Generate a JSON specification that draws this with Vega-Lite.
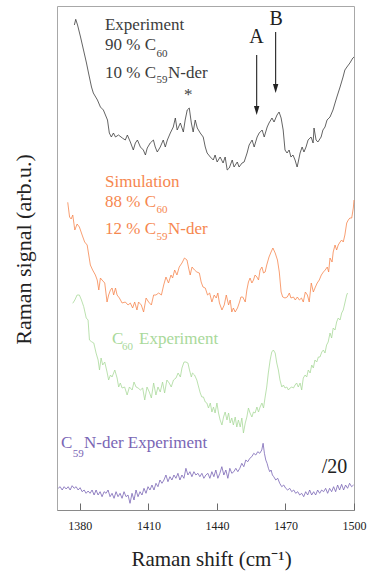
{
  "$schema": "https://vega.github.io/schema/vega-lite/v6.json",
  "width": 297,
  "height": 504,
  "autosize": {"type": "none"},
  "padding": {"left": 57, "top": 6, "right": 20, "bottom": 67},
  "background": "white",
  "config": {
    "view": {"stroke": "#a8a8a8", "strokeWidth": 1},
    "font": "Liberation Serif",
    "text": {"font": "Liberation Serif"}
  },
  "datasets": {
    "spectra": [
      {"series":"mix","shift":1377.6,"signal":485},{"series":"mix","shift":1378.2,"signal":490.7},{"series":"mix","shift":1379.0,"signal":485},{"series":"mix","shift":1380.3,"signal":473},{"series":"mix","shift":1381.6,"signal":460},{"series":"mix","shift":1382.9,"signal":447},{"series":"mix","shift":1383.8,"signal":437},{"series":"mix","shift":1385.1,"signal":423},{"series":"mix","shift":1385.9,"signal":417},{"series":"mix","shift":1387.7,"signal":410},{"series":"mix","shift":1389.0,"signal":403},{"series":"mix","shift":1390.3,"signal":400},{"series":"mix","shift":1392.1,"signal":390},{"series":"mix","shift":1392.9,"signal":377},{"series":"mix","shift":1393.8,"signal":373},{"series":"mix","shift":1394.7,"signal":377},{"series":"mix","shift":1395.6,"signal":373},{"series":"mix","shift":1396.9,"signal":375},{"series":"mix","shift":1398.6,"signal":372},{"series":"mix","shift":1399.9,"signal":370},{"series":"mix","shift":1400.8,"signal":375},{"series":"mix","shift":1402.1,"signal":368},{"series":"mix","shift":1403.4,"signal":360},{"series":"mix","shift":1404.3,"signal":367},{"series":"mix","shift":1405.2,"signal":370},{"series":"mix","shift":1406.5,"signal":363},{"series":"mix","shift":1407.8,"signal":360},{"series":"mix","shift":1408.7,"signal":355},{"series":"mix","shift":1409.5,"signal":362},{"series":"mix","shift":1410.8,"signal":367},{"series":"mix","shift":1412.2,"signal":370},{"series":"mix","shift":1413.0,"signal":363},{"series":"mix","shift":1413.9,"signal":358},{"series":"mix","shift":1415.2,"signal":363},{"series":"mix","shift":1416.5,"signal":370},{"series":"mix","shift":1417.4,"signal":363},{"series":"mix","shift":1418.3,"signal":370},{"series":"mix","shift":1419.6,"signal":377},{"series":"mix","shift":1420.9,"signal":383},{"series":"mix","shift":1421.8,"signal":392},{"series":"mix","shift":1422.6,"signal":380},{"series":"mix","shift":1424.0,"signal":387},{"series":"mix","shift":1425.3,"signal":378},{"series":"mix","shift":1426.1,"signal":390},{"series":"mix","shift":1427.0,"signal":400},{"series":"mix","shift":1427.9,"signal":402},{"series":"mix","shift":1428.8,"signal":387},{"series":"mix","shift":1429.6,"signal":378},{"series":"mix","shift":1430.5,"signal":390},{"series":"mix","shift":1431.4,"signal":382},{"series":"mix","shift":1432.7,"signal":377},{"series":"mix","shift":1434.0,"signal":373},{"series":"mix","shift":1434.9,"signal":363},{"series":"mix","shift":1435.7,"signal":357},{"series":"mix","shift":1437.1,"signal":353},{"series":"mix","shift":1438.4,"signal":350},{"series":"mix","shift":1439.2,"signal":355},{"series":"mix","shift":1440.1,"signal":348},{"series":"mix","shift":1441.4,"signal":353},{"series":"mix","shift":1442.7,"signal":347},{"series":"mix","shift":1443.6,"signal":353},{"series":"mix","shift":1444.5,"signal":340},{"series":"mix","shift":1445.4,"signal":342},{"series":"mix","shift":1446.7,"signal":350},{"series":"mix","shift":1447.5,"signal":343},{"series":"mix","shift":1448.9,"signal":348},{"series":"mix","shift":1449.7,"signal":343},{"series":"mix","shift":1451.0,"signal":347},{"series":"mix","shift":1451.9,"signal":348},{"series":"mix","shift":1453.2,"signal":357},{"series":"mix","shift":1454.1,"signal":365},{"series":"mix","shift":1455.4,"signal":370},{"series":"mix","shift":1456.3,"signal":363},{"series":"mix","shift":1457.6,"signal":373},{"series":"mix","shift":1458.5,"signal":377},{"series":"mix","shift":1459.8,"signal":380},{"series":"mix","shift":1460.7,"signal":373},{"series":"mix","shift":1462.0,"signal":383},{"series":"mix","shift":1462.8,"signal":387},{"series":"mix","shift":1464.1,"signal":392},{"series":"mix","shift":1465.0,"signal":388},{"series":"mix","shift":1466.3,"signal":395},{"series":"mix","shift":1467.2,"signal":398},{"series":"mix","shift":1468.1,"signal":392},{"series":"mix","shift":1469.0,"signal":380},{"series":"mix","shift":1469.8,"signal":360},{"series":"mix","shift":1470.7,"signal":357},{"series":"mix","shift":1471.6,"signal":360},{"series":"mix","shift":1472.4,"signal":353},{"series":"mix","shift":1473.3,"signal":355},{"series":"mix","shift":1474.2,"signal":350},{"series":"mix","shift":1475.1,"signal":343},{"series":"mix","shift":1475.5,"signal":347},{"series":"mix","shift":1476.4,"signal":357},{"series":"mix","shift":1477.3,"signal":363},{"series":"mix","shift":1478.1,"signal":358},{"series":"mix","shift":1479.0,"signal":363},{"series":"mix","shift":1479.9,"signal":370},{"series":"mix","shift":1481.2,"signal":373},{"series":"mix","shift":1482.1,"signal":367},{"series":"mix","shift":1482.5,"signal":382},{"series":"mix","shift":1483.4,"signal":370},{"series":"mix","shift":1484.2,"signal":368},{"series":"mix","shift":1485.6,"signal":373},{"series":"mix","shift":1486.4,"signal":380},{"series":"mix","shift":1487.3,"signal":383},{"series":"mix","shift":1488.2,"signal":390},{"series":"mix","shift":1489.5,"signal":393},{"series":"mix","shift":1490.8,"signal":400},{"series":"mix","shift":1491.7,"signal":407},{"series":"mix","shift":1492.5,"signal":413},{"series":"mix","shift":1493.9,"signal":423},{"series":"mix","shift":1495.2,"signal":433},{"series":"mix","shift":1496.0,"signal":440},{"series":"mix","shift":1496.9,"signal":443},{"series":"mix","shift":1498.2,"signal":447},{"series":"mix","shift":1499.5,"signal":452},{"series":"mix","shift":1500.0,"signal":453},

      {"series":"sim","shift":1374.7,"signal":307.7},{"series":"sim","shift":1375.5,"signal":293},{"series":"sim","shift":1376.2,"signal":291},{"series":"sim","shift":1376.9,"signal":295},{"series":"sim","shift":1377.8,"signal":280},{"series":"sim","shift":1378.8,"signal":286},{"series":"sim","shift":1379.8,"signal":283},{"series":"sim","shift":1381.0,"signal":275},{"series":"sim","shift":1382.1,"signal":268},{"series":"sim","shift":1383.2,"signal":265},{"series":"sim","shift":1383.9,"signal":255},{"series":"sim","shift":1384.6,"signal":245},{"series":"sim","shift":1385.6,"signal":240},{"series":"sim","shift":1386.8,"signal":235},{"series":"sim","shift":1387.6,"signal":230},{"series":"sim","shift":1388.3,"signal":220},{"series":"sim","shift":1389.0,"signal":232},{"series":"sim","shift":1389.7,"signal":230},{"series":"sim","shift":1390.9,"signal":227},{"series":"sim","shift":1391.9,"signal":208},{"series":"sim","shift":1392.6,"signal":215},{"series":"sim","shift":1393.4,"signal":220},{"series":"sim","shift":1394.1,"signal":222},{"series":"sim","shift":1394.8,"signal":215},{"series":"sim","shift":1395.6,"signal":222},{"series":"sim","shift":1396.3,"signal":215},{"series":"sim","shift":1397.3,"signal":212},{"series":"sim","shift":1398.5,"signal":207},{"series":"sim","shift":1399.9,"signal":208},{"series":"sim","shift":1401.1,"signal":205},{"series":"sim","shift":1402.1,"signal":207},{"series":"sim","shift":1403.1,"signal":202},{"series":"sim","shift":1404.0,"signal":208},{"series":"sim","shift":1405.0,"signal":200},{"series":"sim","shift":1405.7,"signal":208},{"series":"sim","shift":1406.9,"signal":205},{"series":"sim","shift":1407.9,"signal":198},{"series":"sim","shift":1409.0,"signal":212},{"series":"sim","shift":1410.1,"signal":208},{"series":"sim","shift":1411.3,"signal":205},{"series":"sim","shift":1412.3,"signal":215},{"series":"sim","shift":1413.3,"signal":215},{"series":"sim","shift":1414.5,"signal":217},{"series":"sim","shift":1415.7,"signal":215},{"series":"sim","shift":1416.7,"signal":225},{"series":"sim","shift":1417.7,"signal":233},{"series":"sim","shift":1418.8,"signal":227},{"series":"sim","shift":1419.9,"signal":235},{"series":"sim","shift":1420.6,"signal":232},{"series":"sim","shift":1421.5,"signal":240},{"series":"sim","shift":1422.5,"signal":235},{"series":"sim","shift":1423.5,"signal":243},{"series":"sim","shift":1424.7,"signal":247},{"series":"sim","shift":1425.8,"signal":252},{"series":"sim","shift":1426.9,"signal":250},{"series":"sim","shift":1427.6,"signal":242},{"series":"sim","shift":1428.3,"signal":235},{"series":"sim","shift":1429.1,"signal":243},{"series":"sim","shift":1430.2,"signal":240},{"series":"sim","shift":1431.2,"signal":238},{"series":"sim","shift":1432.3,"signal":237},{"series":"sim","shift":1433.1,"signal":228},{"series":"sim","shift":1433.9,"signal":223},{"series":"sim","shift":1434.9,"signal":222},{"series":"sim","shift":1435.9,"signal":215},{"series":"sim","shift":1436.8,"signal":217},{"series":"sim","shift":1437.8,"signal":208},{"series":"sim","shift":1438.8,"signal":215},{"series":"sim","shift":1439.7,"signal":212},{"series":"sim","shift":1440.4,"signal":217},{"series":"sim","shift":1441.1,"signal":207},{"series":"sim","shift":1442.2,"signal":200},{"series":"sim","shift":1443.2,"signal":205},{"series":"sim","shift":1444.1,"signal":215},{"series":"sim","shift":1445.1,"signal":205},{"series":"sim","shift":1445.8,"signal":210},{"series":"sim","shift":1446.5,"signal":198},{"series":"sim","shift":1447.2,"signal":202},{"series":"sim","shift":1448.0,"signal":198},{"series":"sim","shift":1449.0,"signal":202},{"series":"sim","shift":1449.9,"signal":208},{"series":"sim","shift":1450.5,"signal":213},{"series":"sim","shift":1451.3,"signal":213},{"series":"sim","shift":1452.4,"signal":208},{"series":"sim","shift":1453.1,"signal":220},{"series":"sim","shift":1453.8,"signal":228},{"series":"sim","shift":1454.5,"signal":232},{"series":"sim","shift":1455.3,"signal":227},{"series":"sim","shift":1456.0,"signal":230},{"series":"sim","shift":1456.7,"signal":235},{"series":"sim","shift":1457.5,"signal":233},{"series":"sim","shift":1458.2,"signal":230},{"series":"sim","shift":1458.9,"signal":240},{"series":"sim","shift":1459.7,"signal":243},{"series":"sim","shift":1460.4,"signal":237},{"series":"sim","shift":1461.1,"signal":238},{"series":"sim","shift":1461.8,"signal":245},{"series":"sim","shift":1462.8,"signal":253},{"series":"sim","shift":1463.7,"signal":258},{"series":"sim","shift":1464.5,"signal":262},{"series":"sim","shift":1465.5,"signal":257},{"series":"sim","shift":1466.5,"signal":250},{"series":"sim","shift":1467.3,"signal":238},{"series":"sim","shift":1468.1,"signal":218},{"series":"sim","shift":1468.8,"signal":213},{"series":"sim","shift":1469.8,"signal":212},{"series":"sim","shift":1470.8,"signal":213},{"series":"sim","shift":1471.7,"signal":217},{"series":"sim","shift":1472.4,"signal":212},{"series":"sim","shift":1473.5,"signal":213},{"series":"sim","shift":1474.3,"signal":210},{"series":"sim","shift":1475.2,"signal":213},{"series":"sim","shift":1476.1,"signal":210},{"series":"sim","shift":1477.0,"signal":212},{"series":"sim","shift":1477.8,"signal":208},{"series":"sim","shift":1478.7,"signal":218},{"series":"sim","shift":1479.6,"signal":215},{"series":"sim","shift":1480.4,"signal":208},{"series":"sim","shift":1481.3,"signal":227},{"series":"sim","shift":1482.2,"signal":218},{"series":"sim","shift":1483.1,"signal":223},{"series":"sim","shift":1483.9,"signal":227},{"series":"sim","shift":1484.8,"signal":230},{"series":"sim","shift":1485.7,"signal":235},{"series":"sim","shift":1486.6,"signal":238},{"series":"sim","shift":1487.4,"signal":240},{"series":"sim","shift":1488.3,"signal":243},{"series":"sim","shift":1488.9,"signal":238},{"series":"sim","shift":1489.5,"signal":252},{"series":"sim","shift":1490.4,"signal":248},{"series":"sim","shift":1490.9,"signal":258},{"series":"sim","shift":1491.7,"signal":265},{"series":"sim","shift":1492.4,"signal":260},{"series":"sim","shift":1493.1,"signal":265},{"series":"sim","shift":1493.9,"signal":268},{"series":"sim","shift":1494.6,"signal":270},{"series":"sim","shift":1495.3,"signal":268},{"series":"sim","shift":1496.0,"signal":275},{"series":"sim","shift":1496.8,"signal":287},{"series":"sim","shift":1497.5,"signal":290},{"series":"sim","shift":1498.2,"signal":292},{"series":"sim","shift":1499.0,"signal":292},{"series":"sim","shift":1499.7,"signal":302},{"series":"sim","shift":1500.0,"signal":310},

      {"series":"c60","shift":1376.9,"signal":206.7},{"series":"c60","shift":1377.8,"signal":210},{"series":"c60","shift":1378.8,"signal":215},{"series":"c60","shift":1379.8,"signal":215},{"series":"c60","shift":1380.7,"signal":210},{"series":"c60","shift":1381.7,"signal":203.3},{"series":"c60","shift":1382.8,"signal":192},{"series":"c60","shift":1383.6,"signal":190},{"series":"c60","shift":1384.2,"signal":170},{"series":"c60","shift":1385.1,"signal":168.3},{"series":"c60","shift":1386.1,"signal":167},{"series":"c60","shift":1387.1,"signal":157},{"series":"c60","shift":1388.0,"signal":150},{"series":"c60","shift":1388.6,"signal":140},{"series":"c60","shift":1389.3,"signal":152},{"series":"c60","shift":1390.0,"signal":145},{"series":"c60","shift":1390.9,"signal":148},{"series":"c60","shift":1391.9,"signal":138},{"series":"c60","shift":1392.6,"signal":130},{"series":"c60","shift":1393.4,"signal":135},{"series":"c60","shift":1394.1,"signal":133},{"series":"c60","shift":1395.3,"signal":140},{"series":"c60","shift":1396.3,"signal":132},{"series":"c60","shift":1397.0,"signal":123},{"series":"c60","shift":1397.7,"signal":127},{"series":"c60","shift":1398.5,"signal":122},{"series":"c60","shift":1399.6,"signal":123},{"series":"c60","shift":1400.7,"signal":115},{"series":"c60","shift":1401.7,"signal":123},{"series":"c60","shift":1402.9,"signal":120},{"series":"c60","shift":1403.7,"signal":128},{"series":"c60","shift":1404.6,"signal":123},{"series":"c60","shift":1405.5,"signal":122},{"series":"c60","shift":1406.5,"signal":120},{"series":"c60","shift":1407.5,"signal":122},{"series":"c60","shift":1408.4,"signal":110},{"series":"c60","shift":1409.4,"signal":123},{"series":"c60","shift":1410.4,"signal":118},{"series":"c60","shift":1411.3,"signal":112},{"series":"c60","shift":1412.3,"signal":127},{"series":"c60","shift":1413.3,"signal":115},{"series":"c60","shift":1414.2,"signal":123},{"series":"c60","shift":1415.2,"signal":118},{"series":"c60","shift":1416.2,"signal":128},{"series":"c60","shift":1417.1,"signal":117},{"series":"c60","shift":1418.1,"signal":130},{"series":"c60","shift":1419.1,"signal":127},{"series":"c60","shift":1420.0,"signal":123},{"series":"c60","shift":1421.0,"signal":130},{"series":"c60","shift":1422.1,"signal":132},{"series":"c60","shift":1423.0,"signal":137},{"series":"c60","shift":1424.0,"signal":133},{"series":"c60","shift":1424.7,"signal":142},{"series":"c60","shift":1425.6,"signal":148},{"series":"c60","shift":1426.4,"signal":148},{"series":"c60","shift":1427.3,"signal":147},{"series":"c60","shift":1428.0,"signal":140},{"series":"c60","shift":1428.8,"signal":133},{"series":"c60","shift":1429.3,"signal":137},{"series":"c60","shift":1430.2,"signal":135},{"series":"c60","shift":1431.2,"signal":130},{"series":"c60","shift":1432.0,"signal":123},{"series":"c60","shift":1432.7,"signal":117},{"series":"c60","shift":1433.4,"signal":113},{"series":"c60","shift":1434.1,"signal":113},{"series":"c60","shift":1434.9,"signal":108},{"series":"c60","shift":1435.6,"signal":107},{"series":"c60","shift":1436.3,"signal":102},{"series":"c60","shift":1437.1,"signal":107},{"series":"c60","shift":1437.8,"signal":98},{"series":"c60","shift":1438.5,"signal":103},{"series":"c60","shift":1439.2,"signal":97},{"series":"c60","shift":1440.0,"signal":107},{"series":"c60","shift":1440.7,"signal":97},{"series":"c60","shift":1441.4,"signal":90},{"series":"c60","shift":1442.2,"signal":85},{"series":"c60","shift":1442.9,"signal":93},{"series":"c60","shift":1443.6,"signal":98},{"series":"c60","shift":1444.4,"signal":90},{"series":"c60","shift":1445.1,"signal":97},{"series":"c60","shift":1445.8,"signal":87},{"series":"c60","shift":1446.5,"signal":92},{"series":"c60","shift":1447.2,"signal":85},{"series":"c60","shift":1448.0,"signal":93},{"series":"c60","shift":1448.7,"signal":83},{"series":"c60","shift":1449.4,"signal":90},{"series":"c60","shift":1450.2,"signal":83},{"series":"c60","shift":1450.9,"signal":92},{"series":"c60","shift":1451.6,"signal":77},{"series":"c60","shift":1452.4,"signal":87},{"series":"c60","shift":1453.1,"signal":93},{"series":"c60","shift":1453.8,"signal":102},{"series":"c60","shift":1454.5,"signal":97},{"series":"c60","shift":1455.3,"signal":93},{"series":"c60","shift":1456.0,"signal":98},{"series":"c60","shift":1456.7,"signal":97},{"series":"c60","shift":1457.5,"signal":103},{"series":"c60","shift":1458.2,"signal":98},{"series":"c60","shift":1458.9,"signal":103},{"series":"c60","shift":1459.7,"signal":107},{"series":"c60","shift":1460.4,"signal":102},{"series":"c60","shift":1461.1,"signal":113},{"series":"c60","shift":1461.8,"signal":123},{"series":"c60","shift":1462.5,"signal":137},{"series":"c60","shift":1463.3,"signal":150},{"series":"c60","shift":1464.0,"signal":158},{"series":"c60","shift":1464.7,"signal":160},{"series":"c60","shift":1465.5,"signal":157},{"series":"c60","shift":1466.2,"signal":147},{"series":"c60","shift":1466.9,"signal":140},{"series":"c60","shift":1467.6,"signal":130},{"series":"c60","shift":1468.4,"signal":123},{"series":"c60","shift":1469.1,"signal":125},{"series":"c60","shift":1469.8,"signal":122},{"series":"c60","shift":1470.6,"signal":123},{"series":"c60","shift":1471.3,"signal":120},{"series":"c60","shift":1472.0,"signal":122},{"series":"c60","shift":1472.8,"signal":123},{"series":"c60","shift":1473.5,"signal":122},{"series":"c60","shift":1474.2,"signal":125},{"series":"c60","shift":1474.9,"signal":127},{"series":"c60","shift":1475.6,"signal":123},{"series":"c60","shift":1476.4,"signal":127},{"series":"c60","shift":1477.1,"signal":120},{"series":"c60","shift":1477.8,"signal":132},{"series":"c60","shift":1478.6,"signal":135},{"series":"c60","shift":1479.3,"signal":133},{"series":"c60","shift":1480.0,"signal":140},{"series":"c60","shift":1480.8,"signal":137},{"series":"c60","shift":1481.5,"signal":145},{"series":"c60","shift":1482.2,"signal":142},{"series":"c60","shift":1482.9,"signal":150},{"series":"c60","shift":1483.7,"signal":148},{"series":"c60","shift":1484.4,"signal":153},{"series":"c60","shift":1485.1,"signal":153},{"series":"c60","shift":1485.9,"signal":158},{"series":"c60","shift":1486.6,"signal":160},{"series":"c60","shift":1487.3,"signal":157},{"series":"c60","shift":1488.0,"signal":165},{"series":"c60","shift":1488.7,"signal":168},{"series":"c60","shift":1489.5,"signal":177},{"series":"c60","shift":1490.2,"signal":172},{"series":"c60","shift":1490.9,"signal":182},{"series":"c60","shift":1491.7,"signal":180},{"series":"c60","shift":1492.4,"signal":188},{"series":"c60","shift":1493.1,"signal":192},{"series":"c60","shift":1493.9,"signal":190},{"series":"c60","shift":1494.6,"signal":197},{"series":"c60","shift":1495.3,"signal":200},{"series":"c60","shift":1496.0,"signal":207},{"series":"c60","shift":1496.8,"signal":215},{"series":"c60","shift":1497.2,"signal":217},

      {"series":"c59n","shift":1370.51,"signal":21.7},{"series":"c59n","shift":1371.38,"signal":23.3},{"series":"c59n","shift":1372.26,"signal":20},{"series":"c59n","shift":1373.13,"signal":23.3},{"series":"c59n","shift":1374.01,"signal":21},{"series":"c59n","shift":1374.88,"signal":23.3},{"series":"c59n","shift":1375.75,"signal":20},{"series":"c59n","shift":1376.63,"signal":24.3},{"series":"c59n","shift":1377.50,"signal":21.7},{"series":"c59n","shift":1378.37,"signal":23.3},{"series":"c59n","shift":1379.25,"signal":20},{"series":"c59n","shift":1380.12,"signal":22.3},{"series":"c59n","shift":1381.00,"signal":18.3},{"series":"c59n","shift":1381.87,"signal":20},{"series":"c59n","shift":1382.74,"signal":16.7},{"series":"c59n","shift":1383.62,"signal":19},{"series":"c59n","shift":1384.49,"signal":16.7},{"series":"c59n","shift":1385.36,"signal":20},{"series":"c59n","shift":1386.24,"signal":15},{"series":"c59n","shift":1387.11,"signal":20},{"series":"c59n","shift":1387.98,"signal":15},{"series":"c59n","shift":1388.86,"signal":18.3},{"series":"c59n","shift":1389.73,"signal":13.3},{"series":"c59n","shift":1390.61,"signal":18.3},{"series":"c59n","shift":1391.48,"signal":16.7},{"series":"c59n","shift":1392.35,"signal":20},{"series":"c59n","shift":1393.23,"signal":13.3},{"series":"c59n","shift":1394.10,"signal":16.7},{"series":"c59n","shift":1394.97,"signal":11.7},{"series":"c59n","shift":1395.85,"signal":18.3},{"series":"c59n","shift":1396.72,"signal":13.3},{"series":"c59n","shift":1397.60,"signal":16.7},{"series":"c59n","shift":1398.47,"signal":11.7},{"series":"c59n","shift":1399.34,"signal":18.3},{"series":"c59n","shift":1400.22,"signal":13.3},{"series":"c59n","shift":1401.09,"signal":15},{"series":"c59n","shift":1401.96,"signal":6.7},{"series":"c59n","shift":1402.84,"signal":16.7},{"series":"c59n","shift":1403.71,"signal":10},{"series":"c59n","shift":1404.59,"signal":20},{"series":"c59n","shift":1405.46,"signal":13.3},{"series":"c59n","shift":1406.33,"signal":18.3},{"series":"c59n","shift":1407.21,"signal":15},{"series":"c59n","shift":1408.08,"signal":21.7},{"series":"c59n","shift":1408.95,"signal":16.7},{"series":"c59n","shift":1409.83,"signal":23.3},{"series":"c59n","shift":1410.70,"signal":20},{"series":"c59n","shift":1411.57,"signal":25},{"series":"c59n","shift":1412.45,"signal":20},{"series":"c59n","shift":1413.32,"signal":26.7},{"series":"c59n","shift":1414.20,"signal":23.3},{"series":"c59n","shift":1415.07,"signal":30},{"series":"c59n","shift":1415.94,"signal":26.7},{"series":"c59n","shift":1416.82,"signal":30},{"series":"c59n","shift":1417.69,"signal":35},{"series":"c59n","shift":1418.56,"signal":28.3},{"series":"c59n","shift":1419.44,"signal":33.3},{"series":"c59n","shift":1420.31,"signal":30},{"series":"c59n","shift":1421.19,"signal":35},{"series":"c59n","shift":1422.06,"signal":31.7},{"series":"c59n","shift":1422.93,"signal":36.7},{"series":"c59n","shift":1423.81,"signal":30},{"series":"c59n","shift":1424.68,"signal":35},{"series":"c59n","shift":1425.55,"signal":31.7},{"series":"c59n","shift":1426.43,"signal":41.7},{"series":"c59n","shift":1427.30,"signal":35},{"series":"c59n","shift":1428.18,"signal":38.3},{"series":"c59n","shift":1429.05,"signal":33.3},{"series":"c59n","shift":1429.92,"signal":38.3},{"series":"c59n","shift":1430.80,"signal":35},{"series":"c59n","shift":1431.67,"signal":36.7},{"series":"c59n","shift":1432.54,"signal":33.3},{"series":"c59n","shift":1433.42,"signal":36.7},{"series":"c59n","shift":1434.29,"signal":31.7},{"series":"c59n","shift":1435.17,"signal":35},{"series":"c59n","shift":1436.04,"signal":36.7},{"series":"c59n","shift":1436.91,"signal":31.7},{"series":"c59n","shift":1437.79,"signal":38.3},{"series":"c59n","shift":1438.66,"signal":33.3},{"series":"c59n","shift":1439.53,"signal":40},{"series":"c59n","shift":1440.41,"signal":31.7},{"series":"c59n","shift":1441.28,"signal":36.7},{"series":"c59n","shift":1442.15,"signal":43.3},{"series":"c59n","shift":1443.03,"signal":35},{"series":"c59n","shift":1443.90,"signal":40},{"series":"c59n","shift":1444.78,"signal":31.7},{"series":"c59n","shift":1445.65,"signal":41.7},{"series":"c59n","shift":1446.52,"signal":36.7},{"series":"c59n","shift":1447.40,"signal":38.3},{"series":"c59n","shift":1448.27,"signal":41.7},{"series":"c59n","shift":1449.14,"signal":38.3},{"series":"c59n","shift":1450.02,"signal":41.7},{"series":"c59n","shift":1450.89,"signal":46.7},{"series":"c59n","shift":1451.76,"signal":43.3},{"series":"c59n","shift":1452.64,"signal":50},{"series":"c59n","shift":1453.51,"signal":48.3},{"series":"c59n","shift":1454.39,"signal":51.7},{"series":"c59n","shift":1455.26,"signal":53.3},{"series":"c59n","shift":1456.13,"signal":56.7},{"series":"c59n","shift":1457.01,"signal":55},{"series":"c59n","shift":1457.88,"signal":58.3},{"series":"c59n","shift":1458.75,"signal":56.7},{"series":"c59n","shift":1459.63,"signal":60},{"series":"c59n","shift":1460.21,"signal":66.7},{"series":"c59n","shift":1460.79,"signal":56.7},{"series":"c59n","shift":1461.38,"signal":50},{"series":"c59n","shift":1461.96,"signal":46.7},{"series":"c59n","shift":1462.54,"signal":41.7},{"series":"c59n","shift":1463.12,"signal":38.3},{"series":"c59n","shift":1463.71,"signal":40},{"series":"c59n","shift":1464.29,"signal":35},{"series":"c59n","shift":1464.87,"signal":33.3},{"series":"c59n","shift":1465.75,"signal":30},{"series":"c59n","shift":1466.62,"signal":31.7},{"series":"c59n","shift":1467.49,"signal":26.7},{"series":"c59n","shift":1468.37,"signal":23.3},{"series":"c59n","shift":1469.24,"signal":25},{"series":"c59n","shift":1470.11,"signal":21.7},{"series":"c59n","shift":1470.99,"signal":20},{"series":"c59n","shift":1471.86,"signal":21.7},{"series":"c59n","shift":1472.74,"signal":18.3},{"series":"c59n","shift":1473.61,"signal":20},{"series":"c59n","shift":1474.48,"signal":16.7},{"series":"c59n","shift":1475.36,"signal":18.3},{"series":"c59n","shift":1476.23,"signal":15},{"series":"c59n","shift":1477.10,"signal":16.7},{"series":"c59n","shift":1477.98,"signal":13.3},{"series":"c59n","shift":1478.85,"signal":18.3},{"series":"c59n","shift":1479.73,"signal":15},{"series":"c59n","shift":1480.60,"signal":20},{"series":"c59n","shift":1481.47,"signal":15},{"series":"c59n","shift":1482.35,"signal":18.3},{"series":"c59n","shift":1483.22,"signal":15},{"series":"c59n","shift":1484.09,"signal":20},{"series":"c59n","shift":1484.97,"signal":16.7},{"series":"c59n","shift":1485.84,"signal":20},{"series":"c59n","shift":1486.71,"signal":18.3},{"series":"c59n","shift":1487.59,"signal":21.7},{"series":"c59n","shift":1488.46,"signal":16.7},{"series":"c59n","shift":1489.33,"signal":21.7},{"series":"c59n","shift":1490.21,"signal":18.3},{"series":"c59n","shift":1491.08,"signal":23.3},{"series":"c59n","shift":1491.96,"signal":18.3},{"series":"c59n","shift":1492.83,"signal":25},{"series":"c59n","shift":1493.70,"signal":20},{"series":"c59n","shift":1494.58,"signal":25.7},{"series":"c59n","shift":1495.45,"signal":20},{"series":"c59n","shift":1496.32,"signal":25},{"series":"c59n","shift":1497.20,"signal":21.7},{"series":"c59n","shift":1498.07,"signal":26.7},{"series":"c59n","shift":1498.94,"signal":23.3},{"series":"c59n","shift":1499.82,"signal":25}
    ],
    "notes": [
      {"kind":"main","series":"mix","shift":1391.0,"signal":480,"label":"Experiment"},
      {"kind":"main","series":"mix","shift":1391.0,"signal":460,"label":"90 % C"},
      {"kind":"sub","series":"mix","shift":1413.6,"signal":453,"label":"60"},
      {"kind":"main","series":"mix","shift":1391.0,"signal":432,"label":"10 % C"},
      {"kind":"sub","series":"mix","shift":1413.6,"signal":427,"label":"59"},
      {"kind":"main","series":"mix","shift":1418.6,"signal":432,"label":"N-der"},
      {"kind":"main","series":"sim","shift":1391.0,"signal":323,"label":"Simulation"},
      {"kind":"main","series":"sim","shift":1391.0,"signal":303,"label":"88 % C"},
      {"kind":"sub","series":"sim","shift":1413.6,"signal":297,"label":"60"},
      {"kind":"main","series":"sim","shift":1391.0,"signal":276,"label":"12 % C"},
      {"kind":"sub","series":"sim","shift":1413.6,"signal":270,"label":"59"},
      {"kind":"main","series":"sim","shift":1418.6,"signal":276,"label":"N-der"},
      {"kind":"main","series":"c60","shift":1394.1,"signal":166,"label":"C"},
      {"kind":"sub","series":"c60","shift":1398.5,"signal":160,"label":"60"},
      {"kind":"main","series":"c60","shift":1405.9,"signal":166,"label":"Experiment"},
      {"kind":"main","series":"c59n","shift":1371.8,"signal":62,"label":"C"},
      {"kind":"sub","series":"c59n","shift":1376.9,"signal":53,"label":"59"},
      {"kind":"main","series":"c59n","shift":1381.8,"signal":62,"label":"N-der Experiment"}
    ],
    "marks": [
      {"series":"mix","shift":1457.3,"signal":467,"label":"A"},
      {"series":"mix","shift":1465.9,"signal":485,"label":"B"}
    ],
    "star": [
      {"series":"mix","shift":1427.4,"signal":410,"label":"*"}
    ],
    "arrows": [
      {"series":"mix","shift":1457.4,"start":455,"end":399.5},
      {"series":"mix","shift":1465.7,"start":478,"end":421.5}
    ],
    "scaleNote": [
      {"series":"mix","shift":1485.9,"signal":37,"label":"/20"}
    ]
  },
  "layer": [
    {
      "data": {"name": "spectra"},
      "mark": {"type": "line", "strokeWidth": 0.8, "interpolate": "linear"},
      "encoding": {
        "x": {
          "field": "shift", "type": "quantitative",
          "scale": {"domain": [1370, 1500], "nice": false, "zero": false},
          "axis": {
            "title": "Raman shift (cm⁻¹)",
            "values": [1380, 1395, 1410, 1425, 1440, 1455, 1470, 1485, 1500],
            "labelExpr": "datum.value % 30 === 0 ? datum.label : ''",
            "format": "d",
            "grid": false,
            "domainColor": "#8a8a8a",
            "tickColor": "#6a6a6a",
            "tickSize": {"condition": {"test": "datum.value % 30 === 0", "value": -7}, "value": -4},
            "labelPadding": 17,
            "labelFont": "Liberation Serif",
            "labelFontSize": 12,
            "labelColor": "#222222",
            "labelFlush": false,
            "labelOverlap": false,
            "titleFont": "Liberation Serif",
            "titleFontSize": 21,
            "titleFontWeight": "normal",
            "titleColor": "#222222",
            "titleX": 154,
            "titleY": 55,
            "titleBaseline": "alphabetic",
            "titleAnchor": "middle",
            "titleAlign": "center"
          }
        },
        "y": {
          "field": "signal", "type": "quantitative",
          "scale": {"domain": [0, 504], "nice": false, "zero": false},
          "axis": {
            "title": "Raman signal (arb.u.)",
            "ticks": false, "labels": false, "domain": false, "grid": false,
            "titleFont": "Liberation Serif",
            "titleFontSize": 22,
            "titleFontWeight": "normal",
            "titleColor": "#222222",
            "titleAngle": 270,
            "titleX": -34,
            "titleY": 243,
            "titleAlign": "center",
            "titleBaseline": "middle"
          }
        },
        "color": {
          "field": "series", "type": "nominal",
          "scale": {"domain": ["mix", "sim", "c60", "c59n"], "range": ["#3c3c3c", "#f6874f", "#a9d99a", "#7a66b5"]},
          "legend": null
        },
        "detail": {"field": "series"}
      }
    },
    {
      "data": {"name": "notes"},
      "transform": [{"filter": "datum.kind === 'main'"}],
      "mark": {"type": "text", "font": "Liberation Serif", "fontSize": 17, "align": "left", "baseline": "alphabetic"},
      "encoding": {
        "x": {"field": "shift", "type": "quantitative"},
        "y": {"field": "signal", "type": "quantitative"},
        "text": {"field": "label"},
        "color": {
          "field": "series", "type": "nominal",
          "scale": {"domain": ["mix", "sim", "c60", "c59n"], "range": ["#222222", "#f27b3c", "#9bd087", "#7a63b2"]},
          "legend": null
        }
      }
    },
    {
      "data": {"name": "notes"},
      "transform": [{"filter": "datum.kind === 'sub'"}],
      "mark": {"type": "text", "font": "Liberation Serif", "fontSize": 11, "align": "left", "baseline": "alphabetic"},
      "encoding": {
        "x": {"field": "shift", "type": "quantitative"},
        "y": {"field": "signal", "type": "quantitative"},
        "text": {"field": "label"},
        "color": {
          "field": "series", "type": "nominal",
          "scale": {"domain": ["mix", "sim", "c60", "c59n"], "range": ["#222222", "#f27b3c", "#9bd087", "#7a63b2"]},
          "legend": null
        }
      }
    },
    {
      "data": {"name": "marks"},
      "mark": {"type": "text", "font": "Liberation Serif", "fontSize": 20, "align": "center", "baseline": "alphabetic", "color": "#222222"},
      "encoding": {
        "x": {"field": "shift", "type": "quantitative"},
        "y": {"field": "signal", "type": "quantitative"},
        "text": {"field": "label"}
      }
    },
    {
      "data": {"name": "star"},
      "mark": {"type": "text", "font": "Liberation Serif", "fontSize": 17, "align": "center", "baseline": "alphabetic", "color": "#444444"},
      "encoding": {
        "x": {"field": "shift", "type": "quantitative"},
        "y": {"field": "signal", "type": "quantitative"},
        "text": {"field": "label"}
      }
    },
    {
      "data": {"name": "scaleNote"},
      "mark": {"type": "text", "font": "Liberation Serif", "fontSize": 20, "align": "left", "baseline": "alphabetic", "color": "#222222"},
      "encoding": {
        "x": {"field": "shift", "type": "quantitative"},
        "y": {"field": "signal", "type": "quantitative"},
        "text": {"field": "label"}
      }
    },
    {
      "data": {"name": "arrows"},
      "mark": {"type": "rule", "color": "#222222", "strokeWidth": 1.1},
      "encoding": {
        "x": {"field": "shift", "type": "quantitative"},
        "y": {"field": "start", "type": "quantitative"},
        "y2": {"field": "end"}
      }
    },
    {
      "data": {"name": "arrows"},
      "mark": {"type": "point", "shape": "M-0.6,-1L0.6,-1L0,1Z", "size": 81, "filled": true, "color": "#222222", "opacity": 1, "strokeWidth": 0},
      "encoding": {
        "x": {"field": "shift", "type": "quantitative"},
        "y": {"field": "end", "type": "quantitative"}
      }
    }
  ]
}
